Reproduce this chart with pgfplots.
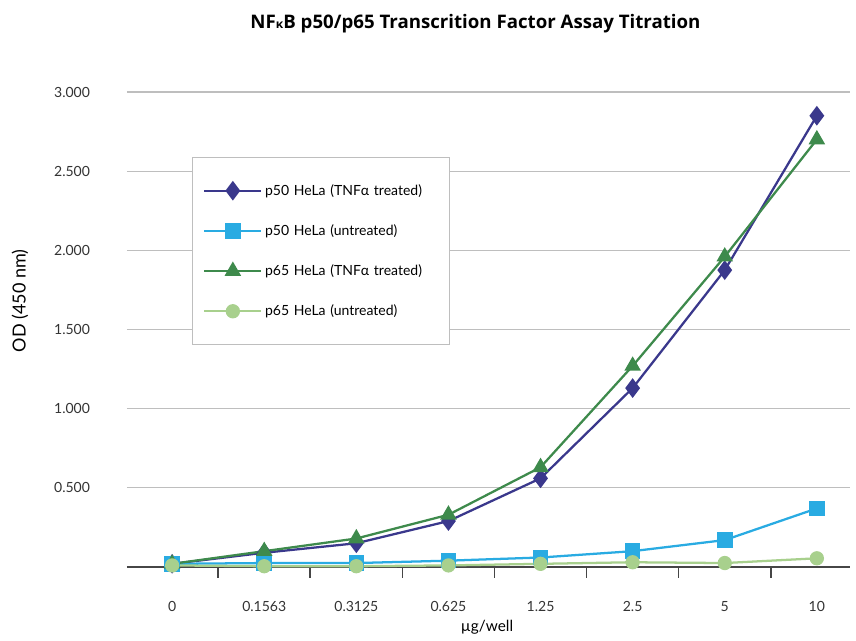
\documentclass[border=0pt]{standalone}
\usepackage{pgfplots}
\pgfplotsset{compat=1.18}
\usepackage{fontspec}
\setmainfont{Lato}
\newfontfamily\titlefont{Open Sans}
\definecolor{cDB}{RGB}{58,56,140}
\definecolor{cLB}{RGB}{41,171,226}
\definecolor{cDG}{RGB}{62,138,76}
\definecolor{cLG}{RGB}{168,208,141}
\definecolor{cGrid}{RGB}{190,190,190}
\definecolor{cAx}{RGB}{70,70,70}
\begin{document}
\begin{tikzpicture}
\begin{axis}[
  scale only axis,
  width=542.25pt, height=356.25pt,
  xmin=-0.49, xmax=7.36,
  ymin=0, ymax=3,
  axis x line*=bottom, axis y line*=left,
  y axis line style={draw=none},
  x axis line style={line width=1.8pt, color=cAx},
  xtick={0,...,7},
  xticklabels={0,0.1563,0.3125,0.625,1.25,2.5,5,10},
  major x tick style={draw=none},
  minor xtick={-0.5,0.5,1.5,2.5,3.5,4.5,5.5,6.5},
  minor x tick style={line width=1.2pt, color=cAx},
  minor tick length=8pt,
  tick align=outside,
  ytick={0.5,1,1.5,2,2.5,3},
  major y tick style={draw=none},
  ymajorgrids,
  grid style={cGrid, line width=0.8pt},
  /pgf/number format/fixed,
  /pgf/number format/fixed zerofill,
  /pgf/number format/precision=3,
  /pgf/number format/assume math mode=true,
  yticklabel style={xshift=-20pt, font=\fontsize{10.5}{12}\selectfont, text=black!80},
  xticklabel style={yshift=-18pt, font=\fontsize{10.5}{12}\selectfont, text=black!80},
  xlabel={µg/well},
  xlabel style={at={(axis description cs:0.498,-0.126)}, anchor=center, font=\fontsize{11.5}{13}\selectfont},
  ylabel={OD (450 nm)},
  ylabel style={at={(axis description cs:-0.148,0.56)}, anchor=center, font=\fontsize{13.5}{15}\selectfont},
  title={\titlefont\bfseries NF{\small κ}B p50/p65 Transcrition Factor Assay Titration},
  title style={at={(axis description cs:0.482,1)}, anchor=south, yshift=35pt, font=\fontsize{14}{16}\selectfont},
  legend style={at={(0.09,0.863)}, anchor=north west, draw=cGrid, line width=0.8pt,
    font=\fontsize{10.5}{12}\selectfont, row sep=16.5pt, inner xsep=8pt, inner ysep=18pt,
    text width=128pt},
  legend cell align=left,
  legend image code/.code={
    \draw[mark repeat=2,mark phase=2] plot coordinates {(0cm,0cm) (0.75cm,0cm) (1.5cm,0cm)};
  },
  clip=false,
]
\addplot[cDB, line width=1.7pt, mark=diamond*, mark size=6pt, mark options={fill=cDB}]
  coordinates {(0,0.02) (1,0.09) (2,0.15) (3,0.29) (4,0.56) (5,1.13) (6,1.875) (7,2.85)};
\addlegendentry{p50 HeLa (TNFα treated)}
\addplot[cLB, line width=1.7pt, mark=square*, mark size=5pt, mark options={fill=cLB}]
  coordinates {(0,0.02) (1,0.025) (2,0.025) (3,0.04) (4,0.06) (5,0.10) (6,0.17) (7,0.37)};
\addlegendentry{p50 HeLa (untreated)}
\addplot[cDG, line width=1.7pt, mark=triangle*, mark size=5.5pt, mark options={fill=cDG}]
  coordinates {(0,0.02) (1,0.10) (2,0.18) (3,0.33) (4,0.63) (5,1.27) (6,1.96) (7,2.70)};
\addlegendentry{p65 HeLa (TNFα treated)}
\addplot[cLG, line width=1.7pt, mark=*, mark size=4.5pt, mark options={fill=cLG}]
  coordinates {(0,0.01) (1,0.005) (2,0.005) (3,0.01) (4,0.02) (5,0.03) (6,0.025) (7,0.055)};
\addlegendentry{p65 HeLa (untreated)}
\end{axis}
\pgfresetboundingbox
\path (current axis.south west) ++(-95.25pt,-54.75pt) coordinate (bl);
\path (current axis.north east) ++(4.5pt,69pt) coordinate (tr);
\path[use as bounding box] (bl) rectangle (tr);
\end{tikzpicture}
\end{document}
